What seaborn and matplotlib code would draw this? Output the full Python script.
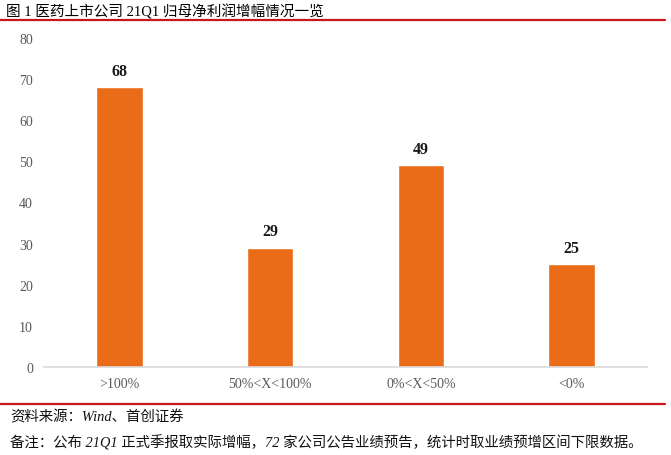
import matplotlib
matplotlib.use("Agg")
import matplotlib.pyplot as plt
import seaborn as sns
import pandas as pd

categories = [">100%", "50%<X<100%", "0%<X<50%", "<0%"]
values = [68, 29, 49, 25]
yticks = [0, 10, 20, 30, 40, 50, 60, 70, 80]
title = "图 1 医药上市公司 21Q1 归母净利润增幅情况一览"
source = "资料来源：Wind、首创证券"
note = "备注：公布 21Q1 正式季报取实际增幅，72 家公司公告业绩预告，统计时取业绩预增区间下限数据。"

sns.set_theme(style="white")
plt.rcParams['font.family'] = ['Liberation Serif', 'Noto Sans CJK SC', 'DejaVu Sans']

df = pd.DataFrame({"cat": categories, "val": values})

fig = plt.figure(figsize=(6.71, 4.56), dpi=100)
ax = fig.add_axes([44/671, 88/456, (647-44)/671, (368-39)/456])
sns.barplot(data=df, x="cat", y="val", color="#EA6C18", saturation=1, width=0.31, ax=ax)

ax.set_ylim(0, 80)
ax.set_yticks(yticks)
ax.set_xlabel("")
ax.set_ylabel("")
ax.tick_params(axis='both', colors='#595959', labelsize=10, length=0)
ax.tick_params(axis='x', pad=7)
ax.tick_params(axis='y', pad=8)
for lbl in ax.get_xticklabels() + ax.get_yticklabels():
    lbl.set_color('#595959')
for s in ["top", "right", "left"]:
    ax.spines[s].set_visible(False)
ax.spines["bottom"].set_color("#D9D9D9")
ax.spines["bottom"].set_linewidth(1.2)

for c in ax.containers:
    ax.bar_label(c, padding=6, fontsize=11.5, fontweight='bold', color='#1a1a1a')

fig.text(6/671, 1 - 12/456, title, fontsize=10.5, color='#000000', va='center', ha='left')
fig.add_artist(plt.Line2D([0, 665/671], [1 - 21/456, 1 - 21/456], color='#C8161D', lw=1.6, transform=fig.transFigure))
fig.add_artist(plt.Line2D([0, 665/671], [1 - 405/456, 1 - 405/456], color='#C8161D', lw=1.6, transform=fig.transFigure))
fig.text(10/671, 1 - 417/456, source, fontsize=10.4, color='#111111', va='center', ha='left', style='italic')
fig.text(10/671, 1 - 443/456, note, fontsize=10.4, color='#111111', va='center', ha='left', style='italic')

fig.savefig("out.png", dpi=100)
